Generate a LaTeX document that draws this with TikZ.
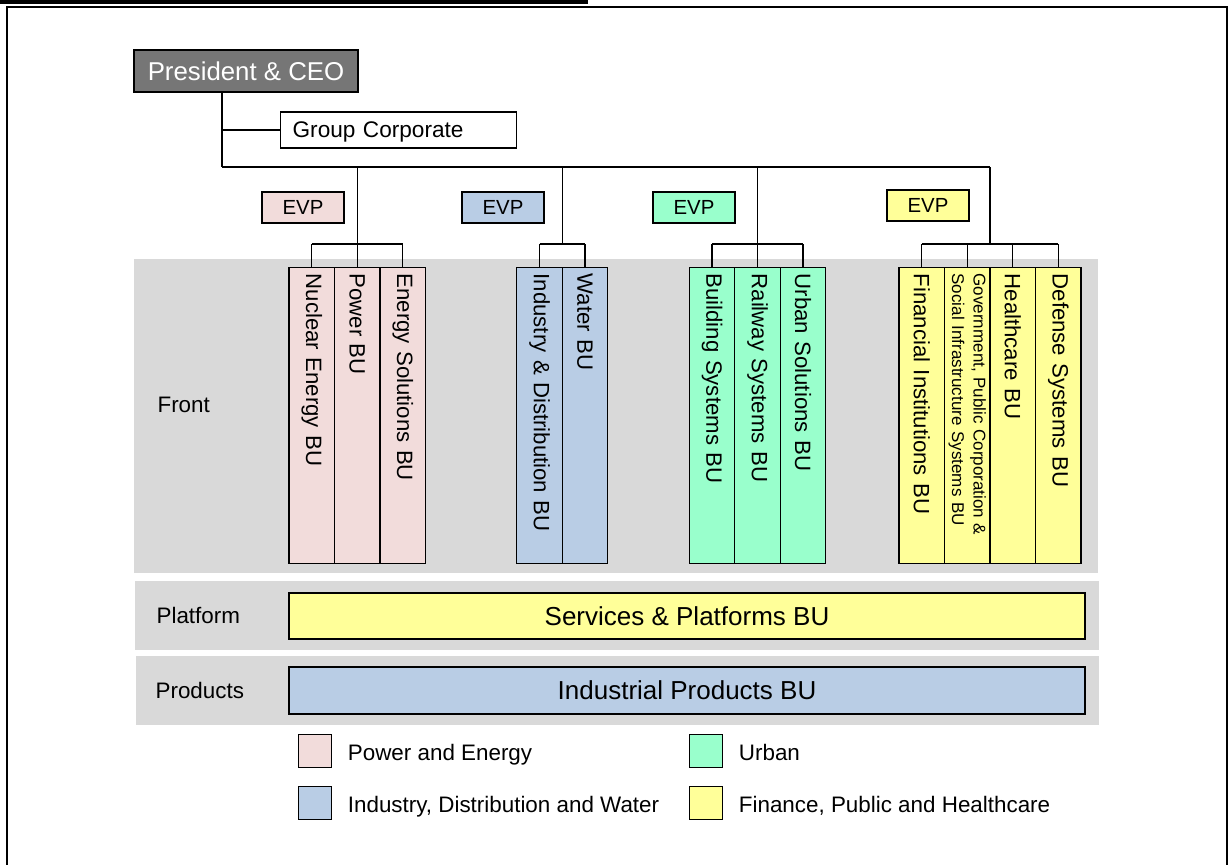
\documentclass[tikz,border=0pt]{standalone}
\usepackage{fontspec}
\setmainfont{Liberation Sans}
\usepackage{tikz}
\usetikzlibrary{calc}

\definecolor{pe}{HTML}{F2DCDB}
\definecolor{idw}{HTML}{B9CDE5}
\definecolor{urb}{HTML}{99FFCC}
\definecolor{fph}{HTML}{FFFF99}
\definecolor{band}{HTML}{D9D9D9}
\definecolor{ceo}{HTML}{767676}

\begin{document}
\begin{tikzpicture}[x=0.5pt,y=-0.5pt,line width=0.6pt]
  \useasboundingbox (0,0) rectangle (1229,865);
  \tikzset{box/.style={draw, line width=0.65pt, inner sep=0pt},
    bu/.style={box, rotate=-90, anchor=west, minimum height=22.75pt,
      text width=142pt, inner xsep=3pt, align=left,
      font=\fontsize{11.1}{13}\selectfont},
    evp/.style={box, minimum width=41pt, minimum height=15.5pt,
      font=\fontsize{10.2}{12}\selectfont},
    lbl/.style={anchor=base west, inner sep=0pt,
      font=\fontsize{11.2}{13}\selectfont}}

  %% Page frame
  \draw[line width=2pt] (0,2) -- (588,2);
  \draw[line width=1pt] (6.5,865) -- (6.5,7.5) -- (1226.5,7.5) -- (1226.5,865);

  %% Grey bands with their row labels
  \fill[band] (134,259) rectangle (1098,573);
  \fill[band] (135,581) rectangle (1099,650);
  \fill[band] (136,656) rectangle (1099,725);
  \node[lbl] (FRONT) at (157,412) {Front};
  \node[lbl] (PLATFORM) at (156,623) {Platform};
  \node[lbl] (PRODUCTS) at (155,698) {Products};

  %% Top management
  \node[box, line width=1.1pt, fill=ceo, text=white, minimum width=112pt,
    minimum height=21pt, font=\fontsize{12.9}{15}\selectfont] (CEO) at (246,71) {President \& CEO};
  \node[box, anchor=west, text width=106pt, inner xsep=6pt, minimum height=18pt,
    text depth=0pt, align=left, font=\fontsize{11.3}{13}\selectfont] (GRP) at (280,130) {Group Corporate};

  \coordinate (BUS) at (222,167);
  \draw (CEO.south -| BUS) -- (BUS);
  \draw (GRP.west -| BUS) -- (GRP.west);

  %% EVP boxes
  \foreach \n/\x/\y/\c in {1/303/207.5/pe, 2/503/207.5/idw, 3/694/207.5/urb, 4/928/205.5/fph}
  {
    \node[evp, fill=\c] (EVP\n) at (\x,\y) {EVP};
  }

  %% Business units hanging into the front band
  \foreach \n/\x/\c/\t in {NUC/311.75/pe/{Nuclear Energy BU}, POW/357.25/pe/{Power BU},
    ENE/402.75/pe/{Energy Solutions BU}, IND/539.5/idw/{Industry \& Distribution BU},
    WAT/585/idw/{Water BU}, BLD/712/urb/{Building Systems BU},
    RLY/757.5/urb/{Railway Systems BU}, URB/803/urb/{Urban Solutions BU},
    FIN/921.75/fph/{Financial Institutions BU}, HLT/1012.75/fph/{Healthcare BU},
    DEF/1058.25/fph/{Defense Systems BU}}
  {
    \node[bu, fill=\c] (\n) at (\x,267) {\t};
  }
  \node[bu, fill=fph, font=\fontsize{8.5}{10.8}\selectfont] (GOV) at (967.25,267)
    {Government, Public Corporation \&\\Social Infrastructure Systems BU};

  %% Drops to every unit
  \foreach \n in {NUC,POW,ENE,IND,WAT,BLD,RLY,URB,FIN,GOV,HLT,DEF}
  {
    \draw (\n.west) -- ++(0,-23);
  }

  %% Group bars and their trunks up to the bus
  \foreach \a/\b in {NUC/ENE, IND/WAT, BLD/URB, FIN/DEF}
  {
    \coordinate (L\a) at ($(\a.west)+(0,-23)$);
    \coordinate (R\a) at ($(\b.west)+(0,-23)$);
    \coordinate (T\a) at ($(L\a)!0.5!(R\a)$);
    \draw (L\a) -- (R\a);
    \draw (T\a) -- (T\a |- BUS);
  }
  \draw (BUS) -- (TFIN |- BUS);

  %% Platform and products rows
  \node[box, fill=fph, minimum width=398pt, minimum height=23pt,
    font=\fontsize{13}{15}\selectfont] (SPBU) at (687,616) {Services \& Platforms BU};
  \node[box, fill=idw, minimum width=398pt, minimum height=23.5pt,
    font=\fontsize{13}{15}\selectfont] (IPBU) at (687,690.5) {Industrial Products BU};

  %% Legend
  \foreach \n/\c/\x/\y/\t in {1/pe/298/734/{Power and Energy},
    2/idw/298/786/{Industry, Distribution and Water},
    3/urb/689/734/{Urban}, 4/fph/689/786/{Finance, Public and Healthcare}}
  {
    \node[box, fill=\c, anchor=north west, minimum width=16.5pt, minimum height=16.5pt] (KEY\n) at (\x,\y) {};
    \node[lbl] (KEYTXT\n) at ($(KEY\n.east)+(15,9.5)$) {\t};
  }
\end{tikzpicture}
\end{document}
